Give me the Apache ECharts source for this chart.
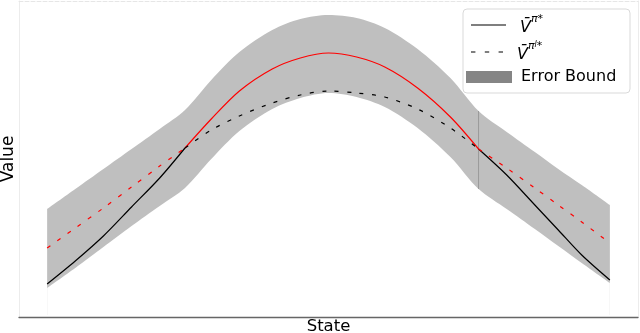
<!DOCTYPE html>
<html>
<head>
<meta charset="utf-8">
<script src="https://cdn.jsdelivr.net/npm/echarts@6/dist/echarts.min.js"></script>
<style>
  html, body { margin: 0; padding: 0; background: #fff; }
  #chart { width: 640px; height: 333px; }
</style>
</head>
<body>
<div id="chart"></div>
<script>
// values
const states = [-3, -2.7, -2.4, -2.1, -1.8, -1.53, -1.25, -0.95, -0.6, -0.3, 0, 0.3, 0.6, 0.95, 1.3, 1.6, 1.9, 2.2, 2.45, 2.7, 3];
const vStar = [0.33, 0.56, 0.81, 1.10, 1.39, 1.69, 1.98, 2.26, 2.48, 2.59, 2.64, 2.60, 2.50, 2.29, 2.00, 1.68, 1.42, 1.12, 0.87, 0.62, 0.37];
const vLearned = [0.69, 0.89, 1.09, 1.30, 1.51, 1.69, 1.87, 2.01, 2.14, 2.22, 2.26, 2.24, 2.20, 2.08, 1.89, 1.68, 1.49, 1.29, 1.12, 0.95, 0.74];
const boundUpper = [1.08, 1.28, 1.48, 1.68, 1.88, 2.07, 2.37, 2.65, 2.87, 2.98, 3.02, 2.99, 2.89, 2.68, 2.39, 2.06, 1.85, 1.65, 1.48, 1.32, 1.12];
const boundLower = [0.29, 0.49, 0.70, 0.91, 1.11, 1.29, 1.58, 1.86, 2.08, 2.19, 2.24, 2.20, 2.10, 1.89, 1.60, 1.28, 1.08, 0.88, 0.71, 0.54, 0.34];
// indices where the two curves cross (colours swap there)
const crossLeft = 5;
const crossRight = 15;

const FONT = "DejaVu Sans";
const BAND = "#bfbfbf";

function pts(ys, from, to) {
  const out = [];
  for (let i = from; i <= to; i++) out.push([states[i], ys[i]]);
  return out;
}

const last = states.length - 1;

function curve(name, ys, from, to, color, dashed) {
  return {
    name: name,
    type: "line",
    data: pts(ys, from, to),
    showSymbol: false,
    symbol: "none",
    smooth: 0.3,
    silent: true,
    z: 5,
    lineStyle: { color: color, width: 1.2, type: dashed ? [4, 8.5] : "solid" },
    itemStyle: { color: color },
  };
}

// band drawn as grey area under the upper bound, then white area under the lower bound
function bandArea(name, ys, fill) {
  return {
    name: name,
    type: "line",
    data: pts(ys, 0, last),
    symbol: "none",
    smooth: 0.3,
    silent: true,
    z: 1,
    lineStyle: { width: 0, opacity: 0 },
    itemStyle: { color: fill },
    areaStyle: { color: fill, opacity: 1, origin: 0.02 },
  };
}

const mathRich = {
  v: { fontFamily: FONT, fontSize: 16, fontStyle: "italic", color: "#000", lineHeight: 22, verticalAlign: "bottom", padding: [0, 0, 0, 9] },
  s: { fontFamily: FONT, fontSize: 11, fontStyle: "italic", color: "#000", lineHeight: 12, verticalAlign: "top" },
  sl: { fontFamily: FONT, fontSize: 8, fontStyle: "italic", color: "#000", lineHeight: 16, verticalAlign: "top" },
};

const hiddenAxis = {
  axisTick: { show: false },
  axisLabel: { show: false },
  splitLine: { show: false },
};

const chart = echarts.init(document.getElementById("chart"));
chart.setOption({
  animation: false,
  grid: { left: 19, right: 2, top: 1, bottom: 16, outerBoundsMode: "none", containLabel: false },
  xAxis: [
    Object.assign({
      type: "value",
      min: -3.3,
      max: 3.3,
      name: "State",
      nameLocation: "middle",
      nameGap: 1,
      nameTextStyle: { fontFamily: FONT, fontSize: 16.5, color: "#000" },
      axisLine: { onZero: false, lineStyle: { color: "#666", width: 1.3 } },
    }, hiddenAxis),
    Object.assign({
      type: "value",
      position: "top",
      min: -3.3,
      max: 3.3,
      axisLine: { onZero: false, lineStyle: { color: "#e6e6e6", type: "dashed" } },
    }, hiddenAxis),
  ],
  yAxis: [
    Object.assign({
      type: "value",
      min: 0,
      max: 3.16,
      name: "Value",
      nameLocation: "middle",
      nameGap: 2,
      nameTextStyle: { fontFamily: FONT, fontSize: 17, color: "#000" },
      axisLine: { show: true, onZero: false, lineStyle: { color: "#ececec" } },
    }, hiddenAxis),
    Object.assign({
      type: "value",
      position: "right",
      min: 0,
      max: 3.16,
      axisLine: { show: true, onZero: false, lineStyle: { color: "#ececec" } },
    }, hiddenAxis),
  ],
  legend: [
    {
      data: [{ name: "vstar", icon: "rect", itemStyle: { color: "#000", borderWidth: 0 } }],
      selectedMode: false,
      symbolKeepAspect: false,
      left: 471, top: 14, padding: 0,
      itemWidth: 35, itemHeight: 1.2,
      formatter: () => "{v|V\u0304}{s|π*}",
      textStyle: { rich: mathRich },
    },
    {
      data: [{
        name: "vlearned",
        icon: "path://M0,0h4v1h-4z M12.5,0h4v1h-4z M25,0h4v1h-4z",
        itemStyle: { color: "#000", borderWidth: 0 },
      }],
      selectedMode: false,
      symbolKeepAspect: false,
      left: 471, top: 41, padding: 0,
      itemWidth: 32, itemHeight: 1.2,
      formatter: () => "{v|V\u0304}{s|π}{sl|l}{s|*}",
      textStyle: { rich: mathRich },
    },
    {
      data: [{ name: "Error Bound", icon: "rect", itemStyle: { color: "#858585", borderWidth: 0 } }],
      selectedMode: false,
      symbolKeepAspect: false,
      left: 466, top: 69, padding: 0,
      itemWidth: 46, itemHeight: 12,
      textStyle: { fontFamily: FONT, fontSize: 16, color: "#000", padding: [0, 0, 0, 4] },
    },
  ],
  graphic: [
    {
      type: "rect",
      z: 3,
      shape: { x: 463, y: 9, width: 167, height: 84, r: 4 },
      style: { fill: "rgba(255,255,255,0.8)", stroke: "#d9d9d9", lineWidth: 1 },
    },
  ],
  series: [
    bandArea("Error Bound", boundUpper, BAND),
    bandArea("bandLower", boundLower, "#ffffff"),
    {
      name: "bandEdge",
      type: "line",
      data: [[states[crossRight], boundLower[crossRight]], [states[crossRight], boundUpper[crossRight]]],
      symbol: "none",
      silent: true,
      z: 3,
      lineStyle: { color: "#9a9a9a", width: 1 },
    },
    curve("vstar", vStar, 0, crossLeft, "#000", false),
    curve("vstar", vStar, crossLeft, crossRight, "#ff0000", false),
    curve("vstar", vStar, crossRight, last, "#000", false),
    curve("vlearned", vLearned, crossLeft, crossRight, "#000", true),
    curve("vlearned", vLearned, 0, crossLeft, "#ff0000", true),
    curve("vlearned", vLearned, crossRight, last, "#ff0000", true),
  ],
});
</script>
</body>
</html>
